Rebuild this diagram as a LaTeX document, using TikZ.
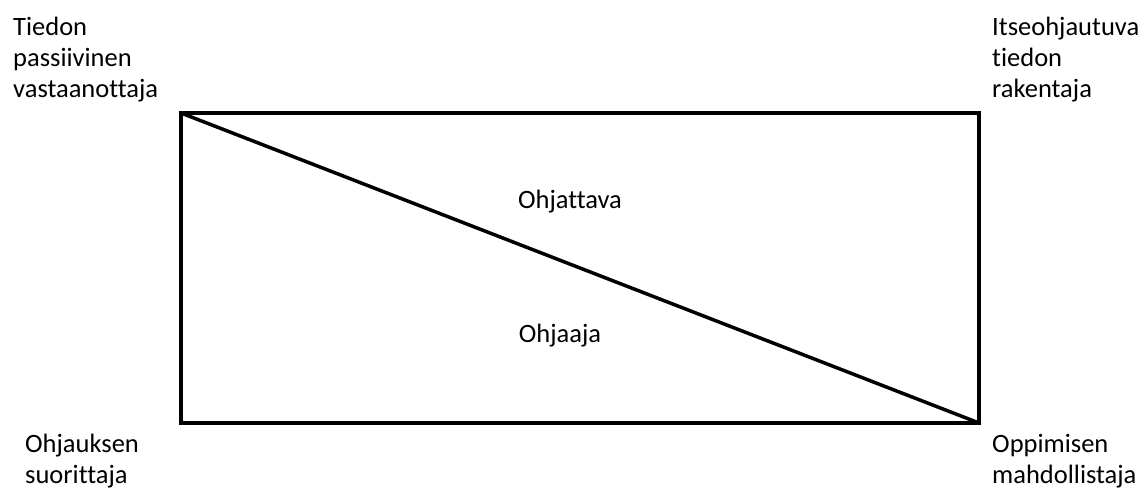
\documentclass[tikz,border=0pt]{standalone}
\usepackage{fontspec}
\setmainfont{Carlito}[Ligatures=NoCommon]
\tikzset{
  lbl/.style={anchor=base west, inner sep=0pt, align=left, font=\fontsize{26.5}{31}\selectfont},
  mid/.style={anchor=base, inner sep=0pt, font=\fontsize{26.5}{31}\selectfont},
  frame/.style={draw=black, line width=4pt},
  diag/.style={draw=black, line width=3.5pt, line cap=round}
}
\begin{document}
\begin{tikzpicture}[x=1pt,y=-1pt]
\useasboundingbox (0,0) rectangle (1142,489);
\coordinate (tl) at (181,113);
\coordinate (br) at (979,423);
\draw[frame] (tl) rectangle (br);
\draw[diag] (tl) -- (br);
\node[lbl] (a) at (13,98) {Tiedon\\passiivinen\\vastaanottaja};
\node[lbl] (b) at (992,98) {Itseohjautuva\\tiedon\\rakentaja};
\node[lbl] (c) at (25,483) {Ohjauksen\\suorittaja};
\node[lbl] (d) at (992,483) {Oppimisen\\mahdollistaja};
\node[mid] (e) at (570,208) {Ohjattava};
\node[mid] (f) at (560,342) {Ohjaaja};
\end{tikzpicture}
\end{document}
